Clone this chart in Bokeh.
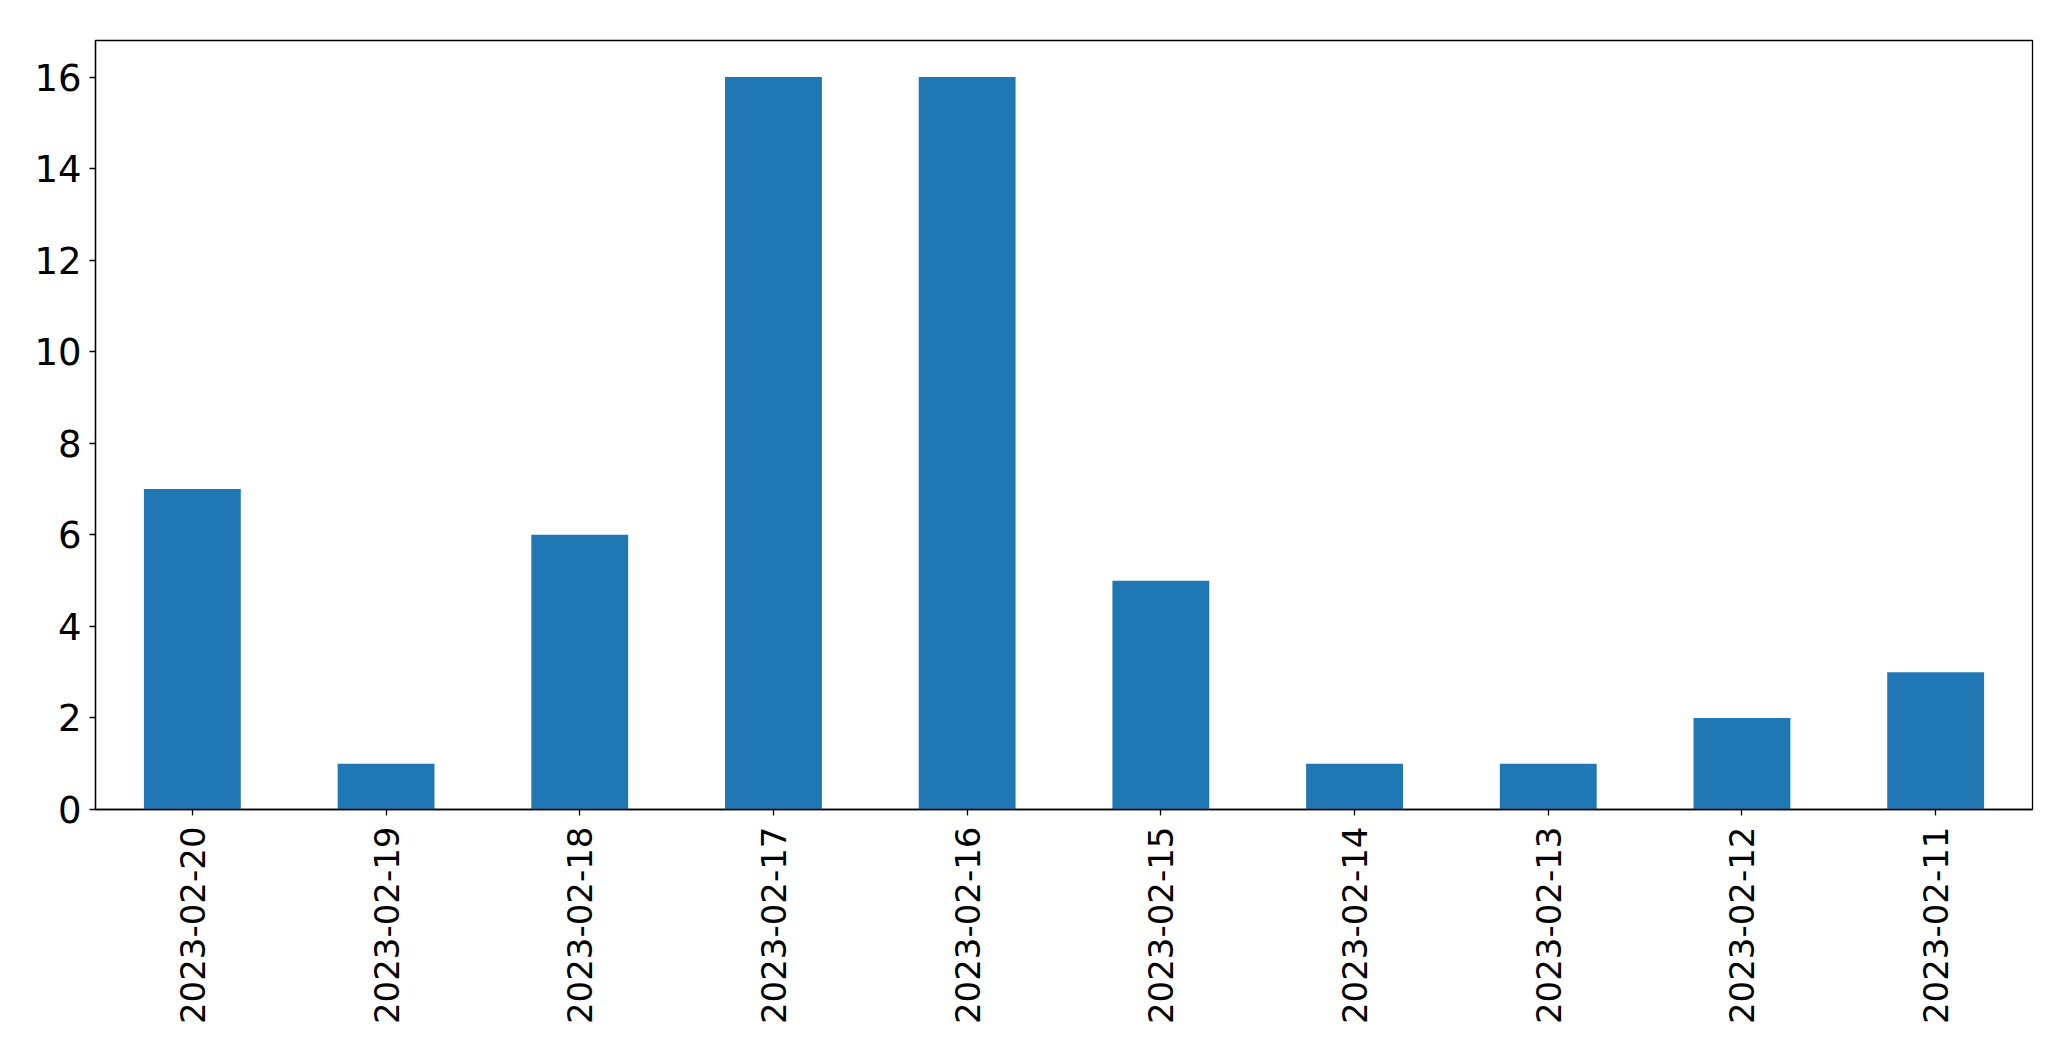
import math
from bokeh.plotting import figure
from bokeh.models import FixedTicker, ColumnDataSource
from bokeh.embed import file_html
from bokeh.resources import INLINE

dates = ["2023-02-20", "2023-02-19", "2023-02-18", "2023-02-17", "2023-02-16",
         "2023-02-15", "2023-02-14", "2023-02-13", "2023-02-12", "2023-02-11"]
counts = [7, 1, 6, 16, 16, 5, 1, 1, 2, 3]
y_ticks = [0, 2, 4, 6, 8, 10, 12, 14, 16]

src = ColumnDataSource(dict(date=dates, count=counts))

p = figure(x_range=dates, y_range=(0, 16.8),
           frame_width=1937, frame_height=769,
           min_border_left=95, min_border_top=40, min_border_right=31, min_border_bottom=236,
           output_backend="svg", toolbar_location=None)

p.vbar(x="date", top="count", width=0.5, source=src, color="#1f77b4", line_color=None)

p.xgrid.visible = False
p.ygrid.visible = False
p.outline_line_color = "black"
p.outline_line_width = 1.3
p.background_fill_color = "white"
p.border_fill_color = "white"

for ax in (p.xaxis[0], p.yaxis[0]):
    ax.axis_line_color = "black"
    ax.axis_line_width = 1.3
    ax.major_tick_line_color = "black"
    ax.major_tick_line_width = 1.3
    ax.major_tick_out = 6
    ax.major_tick_in = 0
    ax.minor_tick_line_color = None
    ax.major_label_text_font = "DejaVu Sans"
    ax.major_label_text_color = "black"

p.yaxis[0].major_label_text_font_size = "37px"
p.xaxis[0].major_label_text_font_size = "34px"
p.yaxis[0].ticker = FixedTicker(ticks=y_ticks)
p.yaxis[0].major_label_standoff = 8
p.xaxis[0].major_label_orientation = math.pi / 2
p.xaxis[0].major_label_standoff = 11
p.x_range.range_padding = 0

open("out.html", "w").write(file_html(p, INLINE))
